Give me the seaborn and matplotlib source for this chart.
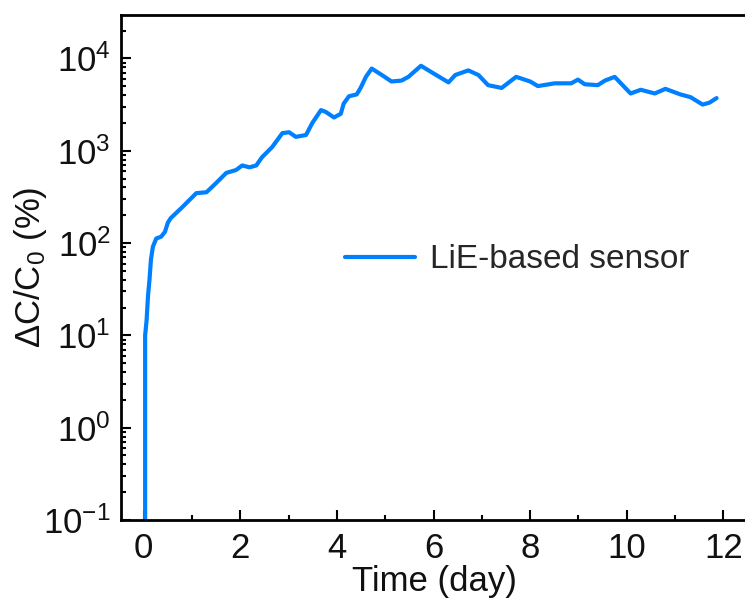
import numpy as np
import pandas as pd
import matplotlib
matplotlib.use("Agg")
import matplotlib.pyplot as plt
import seaborn as sns
from matplotlib.ticker import LogLocator, MultipleLocator, NullFormatter

# ---- data ----
time_day = [0.03, 0.03, 0.06, 0.09, 0.12, 0.15, 0.19, 0.26, 0.36, 0.44, 0.50, 0.56,
            0.80, 1.09, 1.30, 1.50, 1.71, 1.91, 2.04, 2.19, 2.33, 2.45, 2.66, 2.87,
            3.01, 3.15, 3.36, 3.49, 3.67, 3.77, 3.94, 4.08, 4.14, 4.25, 4.41, 4.49,
            4.60, 4.72, 4.93, 5.13, 5.34, 5.48, 5.74, 5.96, 6.31, 6.45, 6.72, 6.93,
            7.13, 7.41, 7.71, 8.00, 8.16, 8.51, 8.85, 8.99, 9.13, 9.40, 9.55, 9.75,
            10.08, 10.29, 10.58, 10.80, 11.11, 11.32, 11.57, 11.71, 11.86]
delta_c = [0.05, 10, 14.5, 27, 40, 66, 91, 112, 117, 132, 166, 186,
           245, 347, 355, 447, 575, 617, 692, 661, 692, 851, 1096, 1549,
           1585, 1413, 1479, 1995, 2754, 2630, 2291, 2512, 3236, 3890, 4074, 4786,
           6310, 7762, 6607, 5623, 5754, 6310, 8318, 7079, 5495, 6607, 7413, 6607,
           5129, 4786, 6310, 5623, 5012, 5370, 5370, 5888, 5248, 5129, 5754, 6310,
           4169, 4571, 4169, 4677, 4074, 3802, 3162, 3311, 3715]
series_name = "LiE-based sensor"
x_ticks = [0, 2, 4, 6, 8, 10, 12]

df = pd.DataFrame({"Time": time_day, "dC": delta_c, "Sensor": series_name})

sns.set_theme(style="ticks")
plt.rcParams["font.family"] = ["Liberation Sans", "DejaVu Sans"]
plt.rcParams["mathtext.fontset"] = "custom"
plt.rcParams["mathtext.rm"] = "Liberation Sans"
plt.rcParams["mathtext.it"] = "Liberation Sans"
plt.rcParams["mathtext.default"] = "regular"
plt.rcParams["axes.unicode_minus"] = False

fig = plt.figure(figsize=(7.45, 6.06), dpi=100)
ax = fig.add_axes([120.5 / 745, 86 / 606, (748 - 120.5) / 745, (520 - 15) / 606])

sns.lineplot(data=df, x="Time", y="dC", hue="Sensor", palette=["#0080FF"],
             estimator=None, sort=False, linewidth=3.0, ax=ax)

ax.set_yscale("log")
ax.set_ylim(0.1, 10 ** 4.47)
ax.set_xlim(-0.48, 12.51)
ax.set_xticks(x_ticks)
ax.xaxis.set_minor_locator(MultipleLocator(1))
ax.yaxis.set_major_locator(LogLocator(base=10, numticks=10))
ax.yaxis.set_minor_locator(LogLocator(base=10, subs=np.arange(2, 10), numticks=20))
ax.yaxis.set_minor_formatter(NullFormatter())

for s in ax.spines.values():
    s.set_linewidth(2.0)
    s.set_color("black")

ax.tick_params(axis="both", which="major", direction="in", length=7.2, width=1.5,
               labelsize=25, color="black", labelcolor="#111111")
ax.tick_params(axis="both", which="minor", direction="in", length=3.6, width=1.5,
               color="black")
ax.tick_params(axis="x", which="major", pad=9)
ax.tick_params(axis="y", which="major", pad=7)
ax.tick_params(top=False, right=False, which="both")

ax.set_xlabel("Time (day)", fontsize=25, labelpad=0, color="#111111")
ax.set_ylabel("ΔC/C$_0$ (%)", fontsize=25, labelpad=-4, color="#111111")

leg = ax.legend(loc="center left", bbox_to_anchor=(0.358, 0.515), frameon=False,
                fontsize=24, handlelength=2.1, handletextpad=0.45,
                borderpad=0, borderaxespad=0)
for line in leg.get_lines():
    line.set_linewidth(3.0)

fig.savefig("out.png", dpi=100)
